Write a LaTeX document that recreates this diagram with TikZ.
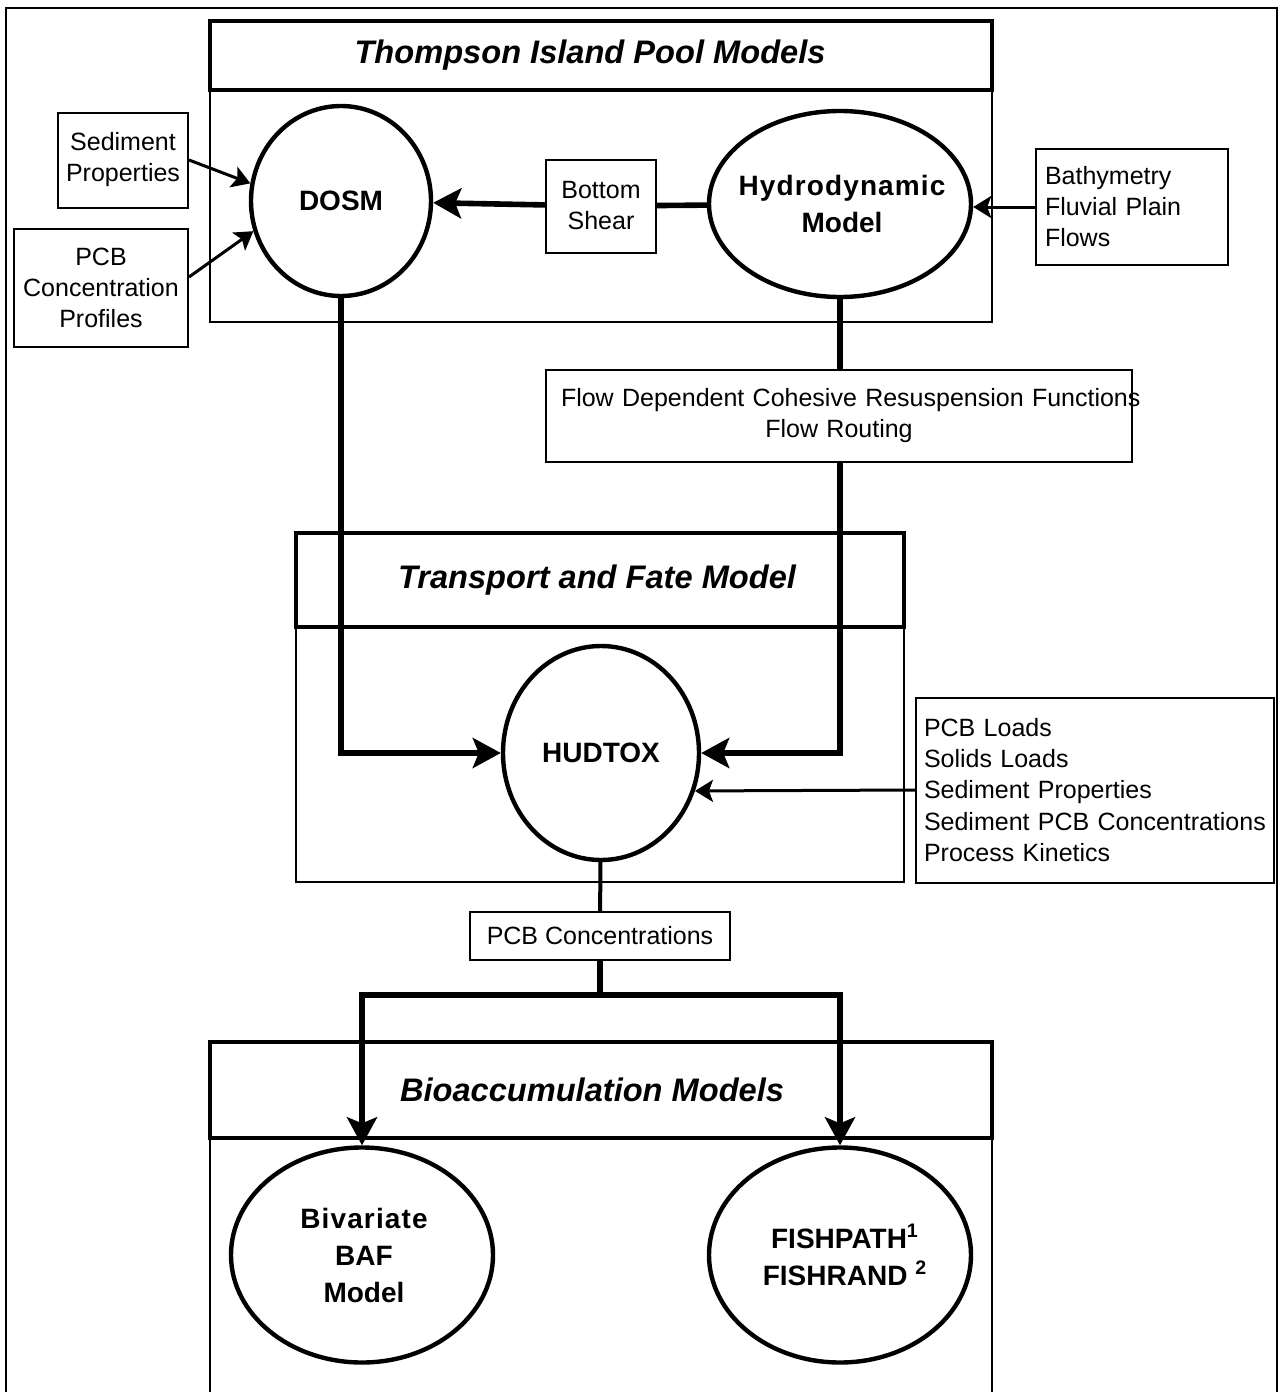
\documentclass[tikz,border=0pt]{standalone}
\usepackage{fontspec}
\setmainfont{Liberation Sans}
\newfontfamily\widebf[LetterSpace=4]{Liberation Sans}
\usetikzlibrary{shapes.geometric,arrows.meta}

\begin{document}
\begin{tikzpicture}[x=0.5pt, y=-0.5pt,
    txt/.style={font=\fontsize{12.5}{15.5}\selectfont, align=center},
    inbox/.style={draw, line width=1pt, txt, inner sep=0pt},
    model/.style={draw, ellipse, line width=2.2pt, inner sep=0pt},
    mtxt/.style={font=\fontsize{14}{18.5}\selectfont\bfseries, align=center},
    ttl/.style={font=\fontsize{16.3}{20}\selectfont\bfseries\itshape},
    bigarrow/.style={line width=2.8pt, -{Stealth[length=14pt,width=15pt,inset=3pt]}},
    midarrow/.style={line width=1.5pt, -{Stealth[length=9pt,width=11pt,inset=2pt]}},
    thickline/.style={line width=2.8pt}]
  \useasboundingbox (0,0) rectangle (1280,1392);
  \draw[line width=1pt] (6,1400) |- (1277,8) -- (1277,1400);

  % model groups
  \draw[line width=1pt] (210,90) rectangle (992,322);
  \draw[line width=2pt] (210,21) rectangle (992,90);
  \node[ttl] (tipT) at (590,55) {Thompson Island Pool Models};
  \draw[line width=1pt] (296,627) rectangle (904,882);
  \draw[line width=2pt] (296,533) rectangle (904,627);
  \node[ttl] (tfT) at (597,580) {Transport and Fate Model};
  \draw[line width=1pt] (210,1138) rectangle (992,1400);
  \draw[line width=2pt] (210,1042) rectangle (992,1138);
  \node[ttl] (bioT) at (592,1090) {Bioaccumulation Models};

  % inputs and data boxes
  \node[inbox, minimum width=65pt, minimum height=47.5pt] (sedprop) at (123,160) {Sediment\\Properties};
  \node[inbox, minimum width=87pt, minimum height=59pt] (pcbprof) at (101,288) {PCB\\Concentration\\Profiles};
  \node[inbox, minimum width=55pt, minimum height=46.5pt] (shear) at (601,206) {Bottom\\Shear};
  \node[inbox, align=left, text width=87pt, inner xsep=4.5pt, minimum height=58pt] (bathy) at (1132,207) {Bathymetry\\Fluvial Plain\\Flows};
  \node[inbox, text width=278pt, inner xsep=7.5pt, minimum height=46pt] (flowbox) at (839,416)
      {\mbox{Flow Dependent Cohesive Resuspension Functions}\\Flow Routing};
  \node[inbox, align=left, text width=171pt, inner xsep=4pt, minimum height=92.5pt,
      font=\fontsize{12.5}{15.7}\selectfont] (inputs) at (1095,790)
      {PCB Loads\\Solids Loads\\Sediment Properties\\\mbox{Sediment PCB Concentrations}\\Process Kinetics};
  \node[inbox, minimum width=130pt, minimum height=24pt] (pcbconc) at (600,936) {PCB Concentrations};

  % models
  \node[model, minimum width=90pt, minimum height=95pt] (dosm) at (341,201) {};
  \node[mtxt] (dosmT) at (dosm) {DOSM};
  \node[model, minimum width=131pt, minimum height=93pt] (hydro) at (840,204) {};
  \node[mtxt] (hydroT) at (842,204) {\widebf Hydrodynamic\\Model};
  \node[model, minimum width=98pt, minimum height=107pt] (hudtox) at (601,753) {};
  \node[mtxt] (hudtoxT) at (hudtox) {HUDTOX};
  \node[model, minimum width=131pt, minimum height=107.5pt] (baf) at (362,1255) {};
  \node[mtxt] (bafT) at (364,1255) {\widebf Bivariate\\BAF\\Model};
  \node[model, minimum width=131pt, minimum height=107.5pt] (fish) at (840,1255) {};
  \node[mtxt] (fishT) at (845,1255) {FISHPATH\textsuperscript{1}\\FISHRAND \textsuperscript{2}};

  % connectors
  \draw[midarrow] (sedprop.east) -- (dosm.169);
  \draw[midarrow] ([yshift=5.5pt]pcbprof.east) -- (dosm.199);
  \draw[bigarrow] (shear) -- (dosm);
  \draw[thickline] (hydro) -- (shear);
  \draw[midarrow] (bathy.west) -- (bathy.west -| hydro.east);
  \draw[thickline] (hydro) -- (hydro |- flowbox.north);
  \draw[bigarrow] (hydro |- flowbox.south) |- (hudtox);
  \draw[bigarrow] (dosm) |- (hudtox);
  \draw[midarrow] (inputs.west) -- (hudtox.-22);
  \draw[line width=2pt] (hudtox) -- (pcbconc);
  \coordinate (split) at (600,995);
  \draw[thickline] (pcbconc) -- (split);
  \draw[bigarrow] (split) -| (baf);
  \draw[bigarrow] (split) -| (fish);
\end{tikzpicture}
\end{document}
